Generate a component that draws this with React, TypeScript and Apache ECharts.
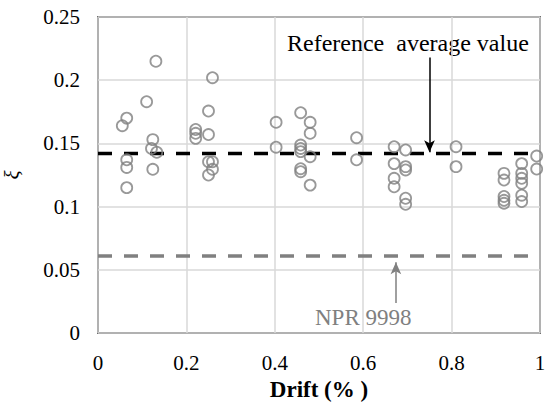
import React, { useEffect, useRef } from "react";
import * as echarts from "echarts";

const driftValues: number[] = [
  0.055, 0.065, 0.065, 0.065, 0.065,
  0.11, 0.131, 0.124, 0.121, 0.133, 0.124,
  0.221, 0.221, 0.221,
  0.25, 0.25, 0.259, 0.25, 0.259, 0.259, 0.25,
  0.403, 0.403,
  0.4585, 0.4585, 0.4585, 0.4585, 0.4585, 0.4585,
  0.48, 0.48, 0.48, 0.48,
  0.585, 0.585,
  0.67, 0.67, 0.67, 0.67,
  0.696, 0.696, 0.696, 0.696, 0.696,
  0.81, 0.81,
  0.9186, 0.9186, 0.9186, 0.9186, 0.9186,
  0.9586, 0.9586, 0.9586, 0.9586, 0.9586, 0.9586,
  0.9925, 0.9925,
];
const xiValues: number[] = [
  0.164, 0.17, 0.137, 0.131, 0.115,
  0.183, 0.215, 0.153, 0.146, 0.143, 0.1295,
  0.161, 0.158, 0.154,
  0.1756, 0.157, 0.202, 0.1355, 0.1355, 0.1295, 0.125,
  0.1667, 0.147,
  0.1743, 0.1487, 0.146, 0.1435, 0.13, 0.1276,
  0.1667, 0.158, 0.1395, 0.117,
  0.1545, 0.137,
  0.1474, 0.134, 0.1224, 0.1157,
  0.1448, 0.1316, 0.129, 0.1066, 0.1018,
  0.1474, 0.1316,
  0.1263, 0.121, 0.108, 0.105, 0.1026,
  0.134, 0.1263, 0.1224, 0.1184, 0.109, 0.104,
  0.14, 0.1297,
];
const referenceAverage = 0.142;
const nprValue = 0.061;
const xTicks = { min: 0, max: 1, interval: 0.2 };
const yTicks = { min: 0, max: 0.25, interval: 0.05 };
const refArrow = { x: 0.75, from: 0.218, to: 0.143 };
const nprArrow = { x: 0.674, from: 0.0237, to: 0.056 };

const SERIF = "Liberation Serif, Times New Roman, serif";

export default function App() {
  const ref = useRef<HTMLDivElement>(null);
  useEffect(() => {
    if (!ref.current) return;
    const chart = echarts.init(ref.current, undefined, { renderer: "svg" });
    const points = driftValues.map((d, i) => [d, xiValues[i]]);
    chart.setOption({
      animation: false,
      backgroundColor: "#ffffff",
      textStyle: { fontFamily: SERIF },
      grid: {
        left: 98,
        right: 9,
        top: 17,
        bottom: 75,
        outerBoundsMode: "none",
        containLabel: false,
        show: true,
        borderColor: "#000000",
        borderWidth: 1.5,
        backgroundColor: "transparent",
      },
      xAxis: {
        type: "value",
        min: xTicks.min,
        max: xTicks.max,
        interval: xTicks.interval,
        name: "Drift (% )",
        nameLocation: "middle",
        nameGap: 40,
        nameTextStyle: { fontFamily: SERIF, fontSize: 23, fontWeight: "bold", color: "#000" },
        axisLine: { show: false },
        axisTick: { show: false },
        axisLabel: {
          fontFamily: SERIF,
          fontSize: 21,
          color: "#000",
          margin: 19,
          formatter: (v: number) => String(Math.round(v * 10) / 10),
        },
        splitLine: { show: true, lineStyle: { color: "#d9d9d9", width: 1.5 } },
      },
      yAxis: {
        type: "value",
        min: yTicks.min,
        max: yTicks.max,
        interval: yTicks.interval,
        name: "ξ",
        nameLocation: "middle",
        nameRotate: 90,
        nameGap: 76,
        nameTextStyle: { fontFamily: SERIF, fontSize: 21, fontStyle: "italic", color: "#000" },
        axisLine: { show: false },
        axisTick: { show: false },
        axisLabel: {
          fontFamily: SERIF,
          fontSize: 21,
          color: "#000",
          margin: 18,
          formatter: (v: number) => String(Math.round(v * 100) / 100),
        },
        splitLine: { show: true, lineStyle: { color: "#d9d9d9", width: 1.5 } },
      },
      series: [
        {
          type: "line",
          data: [
            [xTicks.min, nprValue],
            [xTicks.max, nprValue],
          ],
          symbol: "none",
          lineStyle: { color: "#808080", width: 3.5, type: [14, 12] },
          z: 2,
          markLine: {
            silent: true,
            symbol: ["none", "arrow"],
            symbolSize: [8, 12],
            label: { show: false },
            lineStyle: { color: "#808080", width: 1.5, type: "solid" },
            data: [
              [
                { coord: [nprArrow.x, nprArrow.from] },
                { coord: [nprArrow.x, nprArrow.to] },
              ],
            ],
          },
        },
        {
          type: "line",
          data: [
            [xTicks.min, referenceAverage],
            [xTicks.max, referenceAverage],
          ],
          symbol: "none",
          lineStyle: { color: "#000000", width: 3.5, type: [14, 12] },
          z: 2,
          markLine: {
            silent: true,
            symbol: ["none", "arrow"],
            symbolSize: [8, 12],
            label: { show: false },
            lineStyle: { color: "#000000", width: 1.5, type: "solid" },
            data: [
              [
                { coord: [refArrow.x, refArrow.from] },
                { coord: [refArrow.x, refArrow.to] },
              ],
            ],
          },
        },
        {
          type: "scatter",
          data: points,
          symbol: "circle",
          symbolSize: 11,
          itemStyle: { color: "transparent", borderColor: "#808080", borderWidth: 1.8 },
          z: 3,
        },
      ],
      graphic: [
        {
          type: "text",
          left: 287,
          top: 31,
          style: {
            text: "Reference  average value",
            fontFamily: SERIF,
            fontSize: 24,
            fill: "#000",
          },
        },
        {
          type: "text",
          left: 315,
          top: 306,
          style: {
            text: "NPR 9998",
            fontFamily: SERIF,
            fontSize: 23,
            fill: "#808080",
          },
        },
      ],
    });
    return () => chart.dispose();
  }, []);
  return (
    <div
      ref={ref}
      style={{ position: "absolute", left: 0, top: 0, width: 549, height: 408 }}
    />
  );
}
